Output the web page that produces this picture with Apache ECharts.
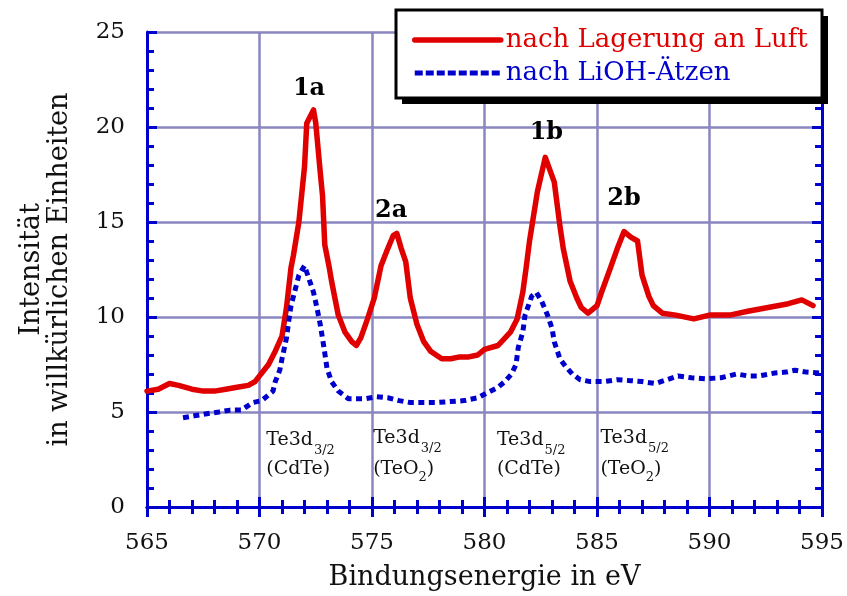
<!DOCTYPE html>
<html>
<head>
<meta charset="utf-8">
<script src="https://cdn.jsdelivr.net/npm/echarts@6/dist/echarts.min.js"></script>
<style>
  html, body { margin: 0; padding: 0; background: #fff; }
  #chart { width: 847px; height: 596px; }
</style>
</head>
<body>
<div id="chart"></div>
<script>
// Te3d XPS spectra: binding energy (eV) vs. intensity (arb. units)
const seriesNames = ['nach Lagerung an Luft', 'nach LiOH-Ätzen'];

const luftEnergy = [565.0, 565.5, 566.0, 566.4, 567.0, 567.5, 568.0, 568.5, 569.0, 569.5, 569.8, 570.0,
  570.4, 570.7, 571.0, 571.2, 571.4, 571.5, 571.75, 572.0, 572.1, 572.4, 572.5, 572.7, 572.8, 572.9,
  573.1, 573.2, 573.5, 573.8, 574.1, 574.3, 574.5, 574.8, 575.1, 575.4, 575.7, 575.95, 576.1, 576.3,
  576.5, 576.7, 577.0, 577.3, 577.6, 578.1, 578.5, 578.9, 579.3, 579.7, 580.0, 580.6, 581.15, 581.45,
  581.7, 581.85, 582.0, 582.35, 582.7, 583.1, 583.35, 583.5, 583.8, 584.1, 584.3, 584.6, 585.0, 585.2,
  585.6, 585.9, 586.2, 586.5, 586.8, 587.0, 587.3, 587.5, 587.9, 588.5, 589.3, 590.0, 590.9, 591.7,
  592.6, 593.5, 594.1, 594.6];
const luftIntensity = [6.1, 6.2, 6.5, 6.4, 6.2, 6.1, 6.1, 6.2, 6.3, 6.4, 6.6, 6.9,
  7.5, 8.2, 9.0, 10.5, 12.6, 13.2, 15.0, 17.9, 20.2, 20.9, 20.2, 17.6, 16.4, 13.8,
  12.6, 11.9, 10.1, 9.2, 8.7, 8.5, 8.9, 9.9, 11.0, 12.7, 13.6, 14.3, 14.4, 13.6,
  12.9, 11.0, 9.6, 8.7, 8.2, 7.8, 7.8, 7.9, 7.9, 8.0, 8.3, 8.5, 9.2, 9.9,
  11.3, 12.6, 14.0, 16.6, 18.4, 17.1, 14.8, 13.6, 11.9, 11.0, 10.5, 10.2, 10.6, 11.3,
  12.6, 13.6, 14.5, 14.2, 14.0, 12.2, 11.1, 10.6, 10.2, 10.1, 9.9, 10.1, 10.1, 10.3,
  10.5, 10.7, 10.9, 10.6];

const liohEnergy = [566.6, 567.1, 567.6, 568.2, 568.7, 569.2, 569.7, 570.1, 570.6, 570.7, 570.9, 571.0,
  571.2, 571.3, 571.4, 571.6, 571.75, 572.0, 572.2, 572.4, 572.55, 572.7, 572.85, 573.0, 573.2, 573.5,
  573.95, 574.7, 575.2, 575.7, 576.2, 576.7, 577.3, 577.9, 578.5, 579.1, 579.7, 580.1, 580.6, 580.9,
  581.2, 581.4, 581.5, 581.7, 581.8, 581.95, 582.1, 582.3, 582.55, 582.8, 583.0, 583.1, 583.35, 583.6,
  583.9, 584.25, 584.7, 585.3, 585.9, 586.5, 587.0, 587.6, 588.1, 588.6, 589.2, 589.8, 590.5, 591.2,
  591.7, 592.2, 592.9, 593.4, 593.8, 594.3, 594.9];
const liohIntensity = [4.7, 4.8, 4.9, 5.0, 5.1, 5.1, 5.5, 5.6, 6.1, 6.6, 7.2, 7.8,
  8.9, 9.8, 10.6, 11.5, 12.2, 12.7, 12.0, 11.3, 10.5, 9.6, 8.5, 7.3, 6.6, 6.1,
  5.7, 5.7, 5.8, 5.75, 5.6, 5.5, 5.5, 5.5, 5.55, 5.6, 5.75, 6.0, 6.3, 6.6,
  7.0, 7.5, 8.4, 9.2, 10.1, 10.6, 11.1, 11.3, 10.8, 10.1, 9.4, 8.7, 7.8, 7.4,
  7.0, 6.7, 6.6, 6.6, 6.7, 6.65, 6.6, 6.5, 6.7, 6.9, 6.8, 6.75, 6.8, 7.0,
  6.9, 6.9, 7.05, 7.1, 7.2, 7.1, 7.05];

// peak markers placed in data units
const peakNames = ['1a', '2a', '1b', '2b'];
const peakEnergy = [572.2, 575.85, 582.75, 586.2];
const peakLevel = [22.0, 15.6, 19.7, 16.2];

// assignment labels under the peaks
const assignEnergy = [570.3, 575.05, 580.55, 585.15];
const assignLevel = [2.85, 2.85, 2.85, 2.85];
const assignShell = ['3/2', '3/2', '5/2', '5/2'];
const assignCompound = ['CdTe', 'TeO2', 'CdTe', 'TeO2'];

const xTicks = { min: 565, max: 595, interval: 5 };
const yTicks = { min: 0, max: 25, interval: 5 };

const RED = '#e00000';
const BLUE = '#0000cc';
const GRID = '#8a86c0';
const SERIF = '"DejaVu Serif", "Liberation Serif", serif';

function zip(a, b) { return a.map((v, i) => [v, b[i]]); }

function compoundText(c) {
  if (c === 'TeO2') return '{m|(TeO}{t|2}{m|)}';
  return '{m|(' + c + ')}';
}

const frameAxis = {
  axisLine: { show: true, lineStyle: { color: BLUE, width: 3 } },
  axisTick: { show: true, inside: true, length: 10, lineStyle: { color: BLUE, width: 3 } },
  minorTick: { show: true, splitNumber: 5, length: 7, lineStyle: { color: BLUE, width: 3 } },
};

const chart = echarts.init(document.getElementById('chart'), null, { renderer: 'canvas' });

chart.setOption({
  backgroundColor: '#ffffff',
  animation: false,
  grid: { left: 147, top: 32, right: 21, bottom: 86, containLabel: false },
  xAxis: [
    Object.assign({
      type: 'value', position: 'bottom', min: xTicks.min, max: xTicks.max, interval: xTicks.interval,
      splitLine: { show: true, lineStyle: { color: GRID, width: 2.5 } },
      axisLabel: { fontFamily: SERIF, fontSize: 23, color: '#111', margin: 25 },
      name: 'Bindungsenergie in eV', nameLocation: 'middle', nameGap: 57,
      nameTextStyle: { fontFamily: SERIF, fontSize: 27, color: '#111' }
    }, frameAxis),
    Object.assign({
      type: 'value', position: 'top', min: xTicks.min, max: xTicks.max, interval: xTicks.interval,
      splitLine: { show: false }, axisLabel: { show: false }
    }, frameAxis)
  ],
  yAxis: [
    Object.assign({
      type: 'value', position: 'left', min: yTicks.min, max: yTicks.max, interval: yTicks.interval,
      splitLine: { show: true, lineStyle: { color: GRID, width: 2.5 } },
      axisLabel: { fontFamily: SERIF, fontSize: 23, color: '#111', margin: 22 },
      name: 'Intensität\nin willkürlichen Einheiten', nameLocation: 'middle', nameRotate: 90, nameGap: 73,
      nameTextStyle: { fontFamily: SERIF, fontSize: 27, lineHeight: 28, color: '#111', align: 'center' }
    }, frameAxis),
    Object.assign({
      type: 'value', position: 'right', min: yTicks.min, max: yTicks.max, interval: yTicks.interval,
      splitLine: { show: false }, axisLabel: { show: false }
    }, frameAxis)
  ],
  legend: {
    show: true, orient: 'vertical', left: 412, top: 26, padding: 0, itemGap: 5,
    itemWidth: 86, itemHeight: 14, z: 20,
    itemStyle: { opacity: 0 },
    textStyle: { fontFamily: SERIF, fontSize: 26, lineHeight: 28 },
    data: [
      { name: seriesNames[0], textStyle: { color: RED }, lineStyle: { width: 5.5 } },
      { name: seriesNames[1], textStyle: { color: BLUE }, lineStyle: { type: [8, 3], width: 5 } }
    ]
  },
  graphic: [
    { type: 'rect', z: 15, shape: { x: 402, y: 16, width: 426, height: 88 }, style: { fill: '#000' } },
    { type: 'rect', z: 16, shape: { x: 396, y: 10, width: 426, height: 88 },
      style: { fill: '#fff', stroke: '#000', lineWidth: 3 } }
  ],
  series: [
    {
      name: seriesNames[0], type: 'line', data: zip(luftEnergy, luftIntensity),
      showSymbol: false, symbol: 'none', smooth: false, z: 3,
      lineStyle: { color: RED, width: 5.5, join: 'round', cap: 'round' }, itemStyle: { color: RED }
    },
    {
      name: seriesNames[1], type: 'line', data: zip(liohEnergy, liohIntensity),
      showSymbol: false, symbol: 'none', smooth: false, z: 3,
      lineStyle: { color: BLUE, width: 5, type: [6, 4.5], cap: 'butt' }, itemStyle: { color: BLUE }
    },
    {
      type: 'scatter', symbolSize: 0, silent: true, z: 4,
      itemStyle: { opacity: 1 },
      data: peakNames.map((n, i) => ({ value: [peakEnergy[i], peakLevel[i]], name: n })),
      label: { show: true, position: 'inside', formatter: p => p.name,
        fontFamily: SERIF, fontWeight: 'bold', fontSize: 24, color: '#000', opacity: 1 }
    },
    {
      type: 'scatter', symbolSize: 0, silent: true, z: 4,
      itemStyle: { opacity: 1 },
      data: assignEnergy.map((e, i) => ({ value: [e, assignLevel[i]], shell: assignShell[i], comp: assignCompound[i] })),
      label: {
        show: true, position: 'right', distance: 0, align: 'left', verticalAlign: 'middle', opacity: 1,
        formatter: p => '{m|Te3d}{s|' + p.data.shell + '}\n' + compoundText(p.data.comp),
        rich: {
          m: { fontFamily: SERIF, fontSize: 19, color: '#111', lineHeight: 25 },
          s: { fontFamily: SERIF, fontSize: 13, color: '#111', verticalAlign: 'bottom', padding: [20, 0, 0, 1] },
          t: { fontFamily: SERIF, fontSize: 13, color: '#111', verticalAlign: 'bottom', padding: [16, 0, 0, 0] }
        }
      }
    }
  ]
});
</script>
</body>
</html>
